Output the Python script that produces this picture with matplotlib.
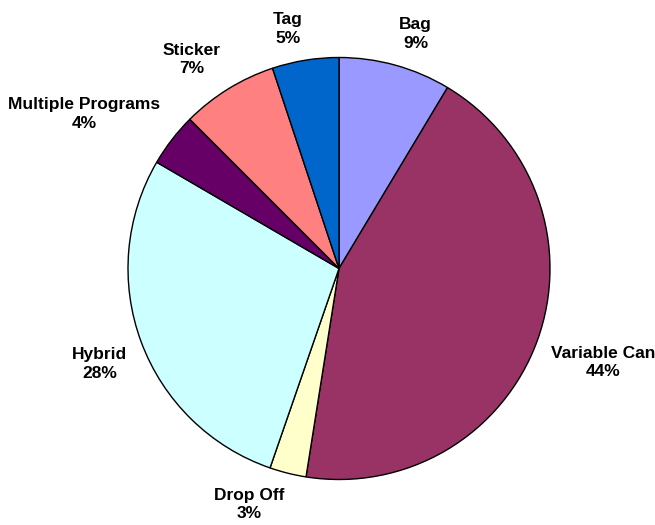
import numpy as np
import matplotlib
matplotlib.use('Agg')
import matplotlib.pyplot as plt

# Data (clockwise from 12 o'clock)
categories = ['Bag', 'Variable Can', 'Drop Off', 'Hybrid', 'Multiple Programs', 'Sticker', 'Tag']
shares = [8.6, 43.9, 2.8, 28.1, 4.1, 7.4, 5.1]
colors = ['#9999FF', '#993366', '#FFFFCC', '#CCFFFF', '#660066', '#FF8080', '#0066CC']

plt.rcParams['font.family'] = ['Liberation Sans', 'DejaVu Sans']

fig = plt.figure(figsize=(6.55, 5.25), dpi=100)
ax = fig.add_axes([0, 0, 1, 1])

# pie geometry in pixel units
cx, cy, R = 339, 256.5, 211

wedges, _ = ax.pie(shares, colors=colors, startangle=90, counterclock=False,
                   center=(cx, cy), radius=R,
                   wedgeprops=dict(edgecolor='black', linewidth=1.0))

# labels outside, box corner touching a ring just outside the pie
k = 1.07
for w, name, v in zip(wedges, categories, shares):
    theta = np.deg2rad((w.theta1 + w.theta2) / 2)
    c, s = np.cos(theta), np.sin(theta)
    x = cx + k * R * c
    y = cy + k * R * s
    ha = 'left' if c > 0 else 'right'
    va = 'bottom' if s > 0 else 'top'
    ax.text(x, y, f'{name}\n{v:.0f}%', ha=ha, va=va, multialignment='center',
            fontsize=12.5, fontweight='bold', linespacing=1.3)

ax.set_xlim(0, 655)
ax.set_ylim(0, 525)
ax.set_aspect('equal')
ax.axis('off')

fig.savefig('out.png', dpi=100)
